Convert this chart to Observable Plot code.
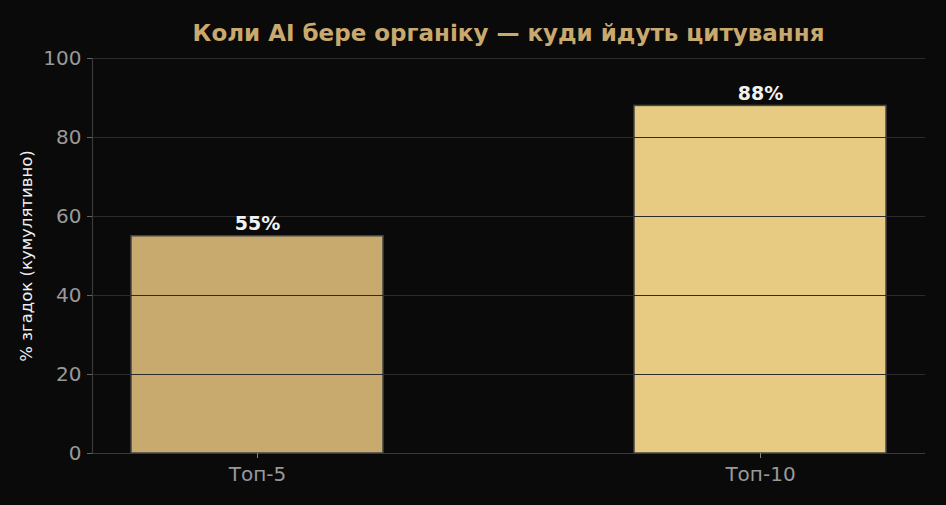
<!DOCTYPE html>
<html><head><meta charset="utf-8">
<script src="https://cdn.jsdelivr.net/npm/d3@7"></script>
<script src="https://cdn.jsdelivr.net/npm/@observablehq/plot@0.6"></script>
<style>
html,body{margin:0;padding:0;background:#0a0a0a;}
#title{height:48px;width:946px;box-sizing:border-box;padding-left:71px;text-align:center;font-family:"DejaVu Sans";font-weight:bold;font-size:23px;color:#c8a96e;line-height:66px;white-space:nowrap;}
</style></head>
<body>
<div id="title">Коли AI бере органіку — куди йдуть цитування</div>
<div id="chart"></div>
<script>
const categories = ["Топ-5", "Топ-10"];
const values = [55, 88];
const barColors = ["#c8a96e", "#e8cb83"];
const yTicks = [0, 20, 40, 60, 80, 100];
const labels = ["55%", "88%"];

const data = categories.map((c, i) => ({cat: c, v: values[i], color: barColors[i], label: labels[i]}));

const chart = Plot.plot({
  width: 946,
  height: 457,
  marginTop: 10,
  marginBottom: 52,
  marginLeft: 92,
  marginRight: 21,
  style: {background: "#0a0a0a", fontFamily: "DejaVu Sans", overflow: "visible"},
  x: {domain: categories, paddingInner: 0.5, paddingOuter: 0.0765, label: null},
  y: {domain: [0, 100], label: null},
  marks: [
    Plot.barY(data, {x: "cat", y: "v", fill: "color", stroke: "#444", strokeWidth: 1.5}),
    Plot.ruleY(yTicks.slice(1), {stroke: "#2c2c2c", strokeWidth: 1.2}),
    Plot.ruleY([0], {stroke: "#3a3a3a", strokeWidth: 1.2}),
    Plot.frame({anchor: "left", stroke: "#3a3a3a", strokeWidth: 1.2}),
    Plot.axisY({ticks: yTicks, tickSize: 5, stroke: "#666", fill: "#999", fontSize: 20, tickPadding: 6, label: "% згадок (кумулятивно)", labelAnchor: "center", labelArrow: "none", labelOffset: 72}),
    Plot.axisX({tickSize: 5, stroke: "#888", fill: "#999", fontSize: 20, tickPadding: 8, label: null}),
    Plot.text(data, {x: "cat", y: "v", text: "label", fill: "#f2f2f2", fontSize: 19, fontWeight: "bold", lineAnchor: "bottom", dy: -6})
  ]
});
document.getElementById("chart").appendChild(chart);
chart.querySelectorAll("g[aria-label='y-axis label']").forEach(g => { g.setAttribute("fill", "#f0f0f0"); g.setAttribute("font-size", "16.5"); g.querySelectorAll("text").forEach(t => { t.setAttribute("fill", "#f0f0f0"); t.setAttribute("font-size", "16.5"); }); });
</script>
</body></html>
